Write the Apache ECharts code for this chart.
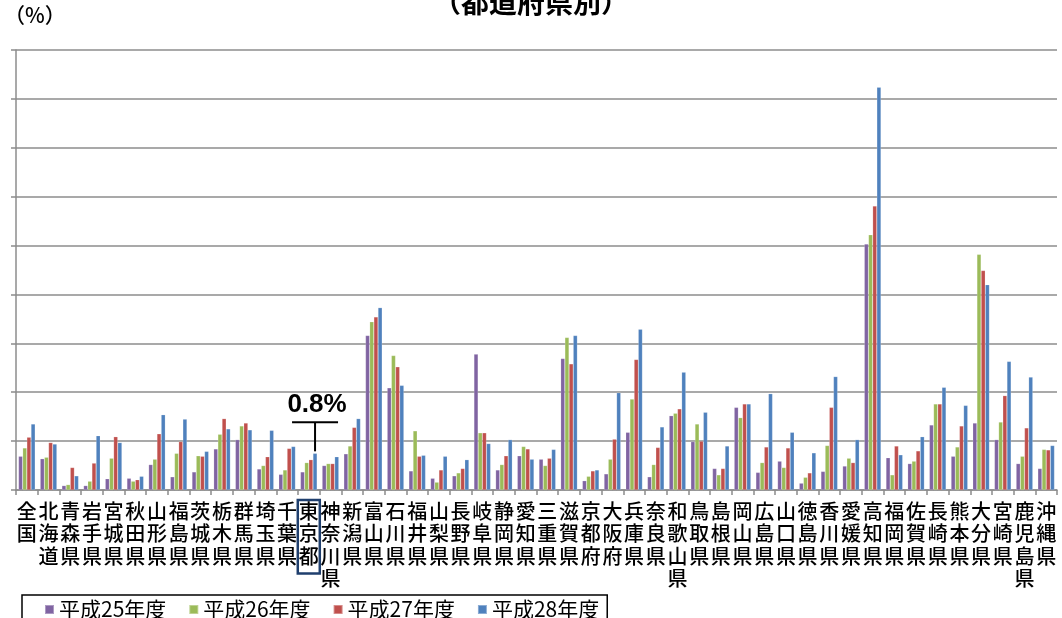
<!DOCTYPE html>
<html><head><meta charset="utf-8">
<script src="https://cdn.jsdelivr.net/npm/echarts@6/dist/echarts.min.js"></script>
<style>html,body{margin:0;padding:0;background:#fff}#c{width:1062px;height:618px}</style>
</head><body><div id="c"></div>
<script>
const categories = ['全国','北海道','青森県','岩手県','宮城県','秋田県','山形県','福島県','茨城県','栃木県','群馬県','埼玉県','千葉県','東京都','神奈川県','新潟県','富山県','石川県','福井県','山梨県','長野県','岐阜県','静岡県','愛知県','三重県','滋賀県','京都府','大阪府','兵庫県','奈良県','和歌山県','鳥取県','島根県','岡山県','広島県','山口県','徳島県','香川県','愛媛県','高知県','福岡県','佐賀県','長崎県','熊本県','大分県','宮崎県','鹿児島県','沖縄県'];
const seriesNames = ['平成25年度','平成26年度','平成27年度','平成28年度'];
const h25 = [0.69,0.64,0.09,0.09,0.23,0.24,0.52,0.27,0.37,0.84,1.03,0.43,0.32,0.37,0.50,0.74,3.16,2.09,0.39,0.24,0.29,2.78,0.41,0.70,0.63,2.69,0.19,0.33,1.18,0.27,1.52,0.99,0.44,1.69,0.36,0.59,0.14,0.38,0.49,5.03,0.66,0.54,1.33,0.69,1.37,1.03,0.54,0.44];
const h26 = [0.86,0.67,0.11,0.18,0.65,0.18,0.63,0.75,0.70,1.14,1.31,0.50,0.41,0.56,0.54,0.90,3.44,2.75,1.21,0.16,0.35,1.17,0.52,0.89,0.50,3.12,0.28,0.63,1.86,0.52,1.57,1.35,0.31,1.48,0.56,0.46,0.26,0.91,0.65,5.22,0.31,0.59,1.76,0.88,4.82,1.39,0.69,0.83];
const h27 = [1.08,0.97,0.46,0.55,1.09,0.21,1.15,0.99,0.69,1.46,1.37,0.68,0.85,0.62,0.54,1.28,3.54,2.52,0.69,0.41,0.44,1.17,0.70,0.84,0.65,2.58,0.39,1.04,2.67,0.87,1.66,1.00,0.44,1.76,0.88,0.86,0.35,1.69,0.56,5.81,0.90,0.80,1.76,1.31,4.49,1.93,1.27,0.82];
const h28 = [1.35,0.94,0.29,1.11,0.97,0.28,1.54,1.45,0.79,1.25,1.23,1.22,0.89,0.75,0.68,1.46,3.73,2.14,0.71,0.69,0.62,0.95,1.03,0.63,0.83,3.16,0.41,1.99,3.29,1.29,2.41,1.59,0.90,1.76,1.97,1.18,0.76,2.32,1.03,8.24,0.72,1.09,2.10,1.73,4.20,2.63,2.31,0.91];
const yMin = 0, yMax = 9, yInterval = 1;
const highlightCategory = '東京都';
const highlightSeries = 3;
const highlightText = '0.8%';
const titleText = '（都道府県別）';
const unitText = '（%）';

const colors = ['#8064A2','#9BBB59','#C0504D','#4F81BD'];
const FONT = '"Noto Sans CJK JP", sans-serif';
const seriesData = [h25, h26, h27, h28];

const chart = echarts.init(document.getElementById('c'));
const unitGraphic = { type: 'text', left: 4, top: 5, style: { text: unitText, fill: '#000', fontSize: 21, fontWeight: 500, fontFamily: FONT } };
const option = {
  animation: false,
  color: colors,
  textStyle: { fontFamily: FONT },
  title: { text: titleText, left: 'center', top: -17, textStyle: { fontSize: 28, fontWeight: 'bold', color: '#000', fontFamily: FONT } },
  grid: { left: 16, right: 5, top: 50, bottom: 128, containLabel: false },
  legend: {
    data: seriesNames, left: 22, top: 595, icon: 'rect', itemWidth: 9, itemHeight: 9, itemGap: 22,
    borderColor: '#000', borderWidth: 1.5, padding: [4, 8, 12, 22],
    textStyle: { fontSize: 21, color: '#000', fontFamily: FONT }
  },
  xAxis: {
    type: 'category',
    data: categories.map(c => c === highlightCategory
      ? { value: c, textStyle: { borderColor: '#1F3F6E', borderWidth: 2.5, padding: [0, 1, 6, 1] } }
      : c),
    axisLine: { lineStyle: { color: '#8c8c8c', width: 1.5 } },
    axisTick: { show: true, length: 5, lineStyle: { color: '#8c8c8c', width: 1.5 } },
    axisLabel: {
      interval: 0, margin: 10, fontSize: 20, fontWeight: 500, lineHeight: 22.5, color: '#000', fontFamily: FONT,
      formatter: v => v.split('').join('\n')
    }
  },
  yAxis: {
    type: 'value', min: yMin, max: yMax, interval: yInterval,
    axisLine: { show: true, lineStyle: { color: '#8c8c8c', width: 1.5 } },
    axisTick: { show: true, length: 5, lineStyle: { color: '#8c8c8c', width: 1.5 } },
    axisLabel: { show: false },
    splitLine: { lineStyle: { color: '#8c8c8c', width: 1.5 } }
  },
  series: seriesNames.map((n, i) => ({
    name: n, type: 'bar', data: seriesData[i], barGap: '0%', barCategoryGap: '23%',
    itemStyle: { color: colors[i], borderColor: 'rgba(255,255,255,0.35)', borderWidth: 0.5 }
  })),
  graphic: [unitGraphic]
};
chart.setOption(option);

function drawNote() {
  const idx = categories.indexOf(highlightCategory);
  let x, yTop;
  let lay = null;
  try { lay = chart.getModel().getSeriesByIndex(highlightSeries).getData().getItemLayout(idx); } catch (e) {}
  if (lay) { x = lay.x + lay.width / 2; yTop = Math.min(lay.y, lay.y + lay.height); }
  else { const p = chart.convertToPixel({ xAxisIndex: 0, yAxisIndex: 0 }, [idx, seriesData[highlightSeries][idx]]); x = p[0] + 6; yTop = p[1]; }
  const hy = yTop - 31;
  chart.setOption({ graphic: [
    unitGraphic,
    { type: 'line', shape: { x1: x, y1: hy, x2: x, y2: yTop - 2 }, style: { stroke: '#000', lineWidth: 2 } },
    { type: 'line', shape: { x1: x - 23, y1: hy, x2: x + 23, y2: hy }, style: { stroke: '#000', lineWidth: 2 } },
    { type: 'text', x: x + 2, y: hy - 5, style: { text: highlightText, fill: '#000', font: 'bold 26px "Liberation Sans Narrow", "Liberation Sans", sans-serif', textAlign: 'center', textVerticalAlign: 'bottom' } }
  ] }, { replaceMerge: ['graphic'] });
}
drawNote();
</script></body></html>
